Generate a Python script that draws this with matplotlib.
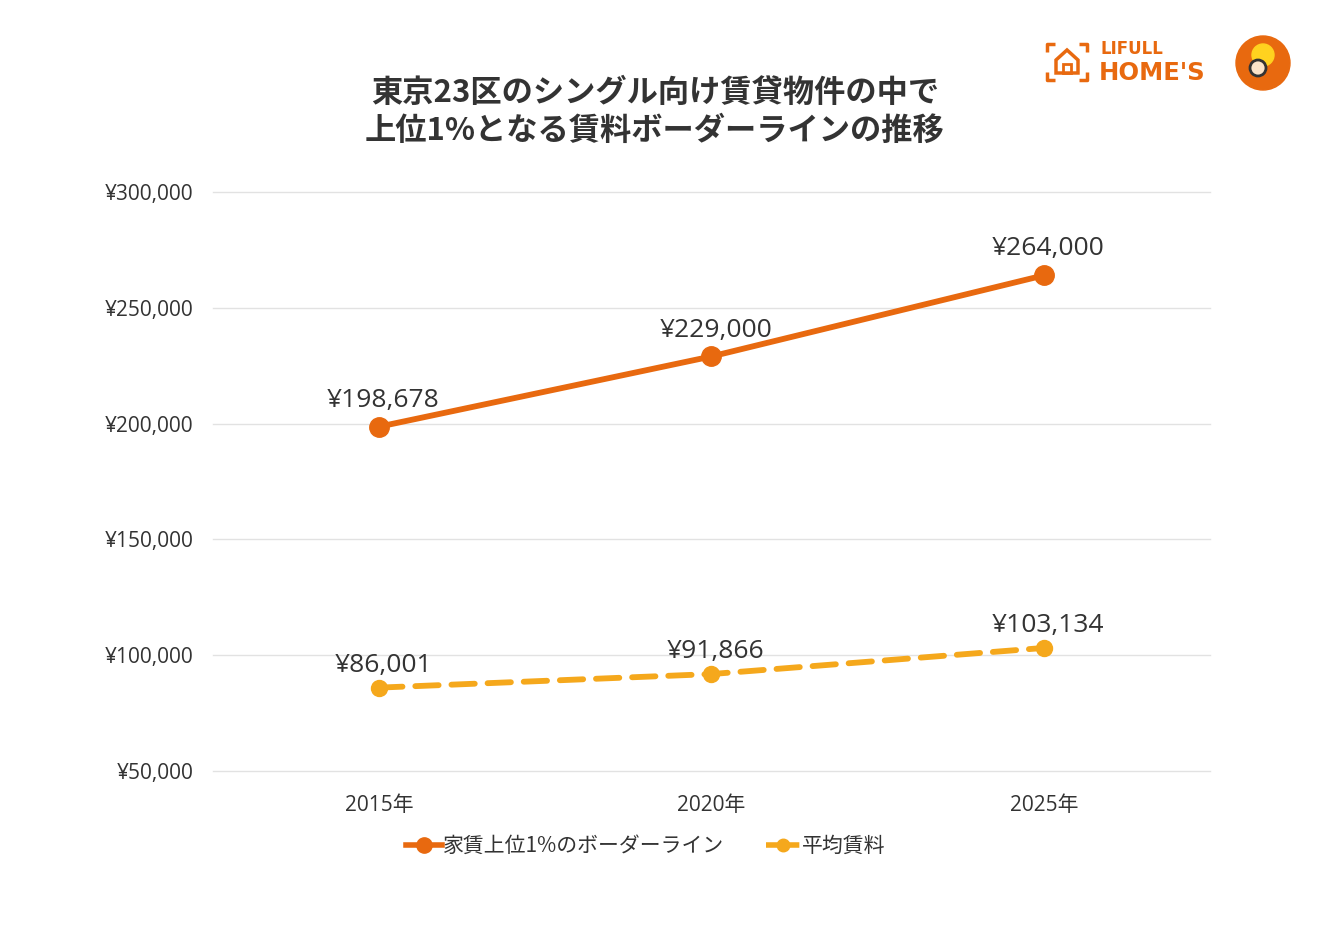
import matplotlib
matplotlib.use("Agg")
import matplotlib.pyplot as plt
from matplotlib.lines import Line2D
from matplotlib.patches import Circle, Polygon

plt.rcParams['font.family'] = ['Noto Sans CJK JP', 'DejaVu Sans']
NUM_FONT = ['Open Sans', 'Noto Sans CJK JP']

years = ["2015年", "2020年", "2025年"]
border_rent = [198678, 229000, 264000]
avg_rent = [86001, 91866, 103134]
series_names = ["家賃上位1%のボーダーライン", "平均賃料"]
y_ticks = [50000, 100000, 150000, 200000, 250000, 300000]
title = "東京23区のシングル向け賃貸物件の中で\n上位1%となる賃料ボーダーラインの推移"

ORANGE = "#E8690F"
YELLOW = "#F5A81C"
TEXT = "#333333"

W, H = 1317, 940
fig = plt.figure(figsize=(W / 100, H / 100), dpi=100)
ax = fig.add_axes([213 / W, 1 - 771 / H, (1210 - 213) / W, (771 - 192) / H])

x = list(range(len(years)))
ax.plot(x, border_rent, color=ORANGE, lw=4.2, marker="o", ms=14,
        solid_capstyle="round", zorder=3)
ax.plot(x, avg_rent, color=YELLOW, lw=4.2, ls=(0, (4, 2.2)), marker="o", ms=11.5,
        dash_capstyle="round", zorder=3)

for xi, v in zip(x, border_rent):
    ax.annotate(f"¥{v:,}", (xi, v), xytext=(3, 10), textcoords="offset points",
                ha="center", va="bottom", fontsize=19, color=TEXT, family=NUM_FONT)
for xi, v in zip(x, avg_rent):
    ax.annotate(f"¥{v:,}", (xi, v), xytext=(3, 7), textcoords="offset points",
                ha="center", va="bottom", fontsize=19, color=TEXT, family=NUM_FONT)

ax.set_xlim(-0.5, 2.5)
ax.set_ylim(50000, 300000)
ax.set_yticks(y_ticks)
ax.set_yticklabels([f"¥{t:,}" for t in y_ticks], fontsize=15, color=TEXT, family=NUM_FONT)
ax.set_xticks(x)
ax.set_xticklabels(years, fontsize=15, color=TEXT, family=NUM_FONT)
ax.tick_params(axis="both", length=0)
ax.tick_params(axis="y", pad=14)
ax.tick_params(axis="x", pad=17)
ax.grid(axis="y", color="#e2e2e2", lw=1)
for gl in ax.get_ygridlines():
    gl.set_clip_on(False)
ax.set_axisbelow(True)
for s in ax.spines.values():
    s.set_visible(False)

fig.text(655 / W, 1 - 112 / H, title, ha="center", va="center", fontsize=22.5,
         fontweight="bold", color=TEXT, linespacing=1.25)

handles = [
    Line2D([], [], color=ORANGE, lw=4, marker="o", ms=11),
    Line2D([], [], color=YELLOW, lw=4, ls=(0, (2.5, 1)), marker="o", ms=9),
]
fig.legend(handles, series_names, loc="center", bbox_to_anchor=(646 / W, 1 - 846 / H),
           ncol=2, frameon=False, fontsize=15, handlelength=1.7, handletextpad=0.05,
           columnspacing=2.0, labelcolor=TEXT)

# logo (top right)
logo = fig.add_axes([0, 0, 1, 1], facecolor="none")
logo.set_xlim(0, W)
logo.set_ylim(H, 0)
logo.axis("off")
for (x0, y0, dx, dy) in [(1047, 44, 1, 1), (1087, 44, -1, 1), (1047, 80, 1, -1), (1087, 80, -1, -1)]:
    logo.plot([x0 + 8 * dx, x0, x0], [y0, y0, y0 + 8 * dy], color=ORANGE, lw=2.5,
              solid_capstyle="butt")
logo.add_patch(Polygon([[1056, 60], [1067, 50], [1078, 60], [1078, 73], [1056, 73]],
                       closed=True, fill=False, ec=ORANGE, lw=2.5))
logo.add_patch(Polygon([[1063, 73], [1063, 64], [1071, 64], [1071, 73]],
                       closed=True, fill=False, ec=ORANGE, lw=2))
logo.text(1100, 49, "LIFULL", color=ORANGE, fontsize=12, fontweight="bold",
          va="center", ha="left", family=["DejaVu Sans"])
logo.text(1099, 73, "HOME'S", color=ORANGE, fontsize=17.5, fontweight="bold",
          va="center", ha="left", family=["DejaVu Sans"])
logo.add_patch(Circle((1263, 63), 27, color=ORANGE))
logo.add_patch(Circle((1263, 55), 11, color="#FFD21F"))
logo.add_patch(Circle((1258, 68), 8, fc="#fbe3c8", ec="#333333", lw=2))

fig.savefig("out.png", dpi=100, facecolor="white")
